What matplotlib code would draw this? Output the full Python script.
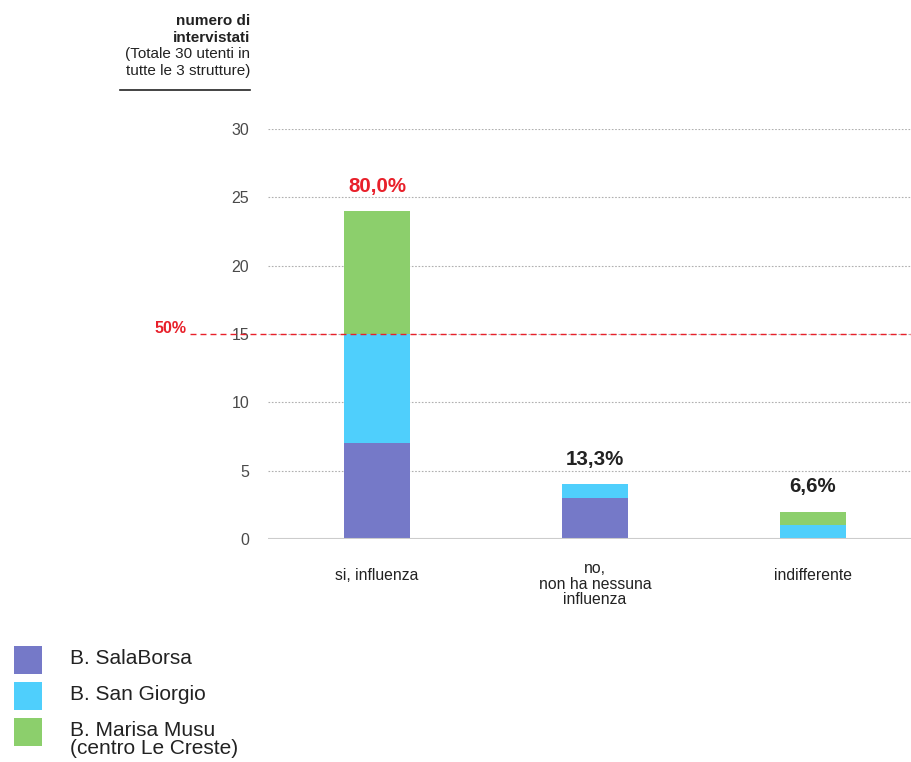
import matplotlib
matplotlib.use("Agg")
import matplotlib.pyplot as plt
from matplotlib.lines import Line2D
from matplotlib.patches import Rectangle

plt.rcParams['font.family'] = ['Liberation Sans', 'DejaVu Sans']

categories = ["si, influenza", "no,\nnon ha nessuna\ninfluenza", "indifferente"]
series_names = ["B. SalaBorsa", "B. San Giorgio", "B. Marisa Musu\n(centro Le Creste)"]
salaborsa = [7, 3, 0]
san_giorgio = [8, 1, 1]
marisa_musu = [9, 0, 1]
pct_labels = ["80,0%", "13,3%", "6,6%"]
pct_colors = ["#e8202a", "#222222", "#222222"]
colors = ["#7579c8", "#4fcffc", "#8ccf6c"]
yticks = [0, 5, 10, 15, 20, 25, 30]
threshold = 15
threshold_label = "50%"
header_bold = ["numero di", "intervistati"]
header_normal = ["(Totale 30 utenti in", "tutte le 3 strutture)"]

W, H = 912, 762
fig = plt.figure(figsize=(W / 100, H / 100), dpi=100)
ax = fig.add_axes([268 / W, 1 - 539 / H, 644 / W, (539 - 129) / H])

x = list(range(len(categories)))
bw = 0.30
bottom = [0] * len(categories)
for vals, c in zip([salaborsa, san_giorgio, marisa_musu], colors):
    ax.bar(x, vals, width=bw, bottom=bottom, color=c, edgecolor='none', zorder=3)
    bottom = [b + v for b, v in zip(bottom, vals)]

ax.set_xlim(-0.5, 2.454)
ax.set_ylim(0, 30)
ax.set_yticks(yticks)
ax.set_yticklabels([str(t) for t in yticks], fontsize=11.5, color="#4a4a4a")
ax.tick_params(axis='y', length=0, pad=13.5)
ax.set_xticks([])
for s in ax.spines.values():
    s.set_visible(False)
for t in yticks[1:]:
    ax.axhline(t, color="#b0b0b0", lw=0.8, ls=(0, (1.5, 1.5)), zorder=1)
ax.axhline(0, color="#cccccc", lw=1.5, zorder=4)

# threshold line extending left beyond axes
ax.plot([-0.86, 2.454], [threshold, threshold], color="#e8202a", lw=1.0,
        ls=(0, (4.3, 2.9)), clip_on=False, zorder=5)
fig.text(187 / W, 1 - 328 / H, threshold_label, color="#e8202a", fontsize=11.5,
         fontweight='bold', ha='right', va='center')

for xi, tot, lab, pc in zip(x, bottom, pct_labels, pct_colors):
    ax.annotate(lab, (xi, tot), xytext=(0, 11), textcoords='offset points',
                ha='center', va='bottom', fontsize=14.8, fontweight='bold', color=pc)

for xi, cat in zip(x, categories):
    off = -16 if "\n" in cat else -21
    ax.annotate(cat, (xi, 0), xytext=(0, off), textcoords='offset points',
                ha='center', va='top', fontsize=11.3, color="#222222",
                linespacing=1.05)

# header
for i, line in enumerate(header_bold + header_normal):
    fig.text(250 / W, 1 - (21 + 16.5 * i) / H, line, ha='right', va='center',
             fontsize=11, fontweight='bold' if i < 2 else 'normal', color="#222222")
fig.add_artist(Line2D([120 / W, 250 / W], [1 - 90 / H, 1 - 90 / H], color="#222222", lw=1.2))

# legend
leg_y = [660, 696, 732]
for yy, c, name in zip(leg_y, colors, series_names):
    fig.add_artist(Rectangle((14 / W, 1 - (yy + 14) / H), 28 / W, 28 / H,
                             facecolor=c, edgecolor='none', transform=fig.transFigure))
    for j, part in enumerate(name.split("\n")):
        fig.text(70 / W, 1 - (yy - 2 + 18 * j) / H, part, ha='left', va='center',
                 fontsize=15, color="#222222")

fig.savefig("out.png", dpi=100)
